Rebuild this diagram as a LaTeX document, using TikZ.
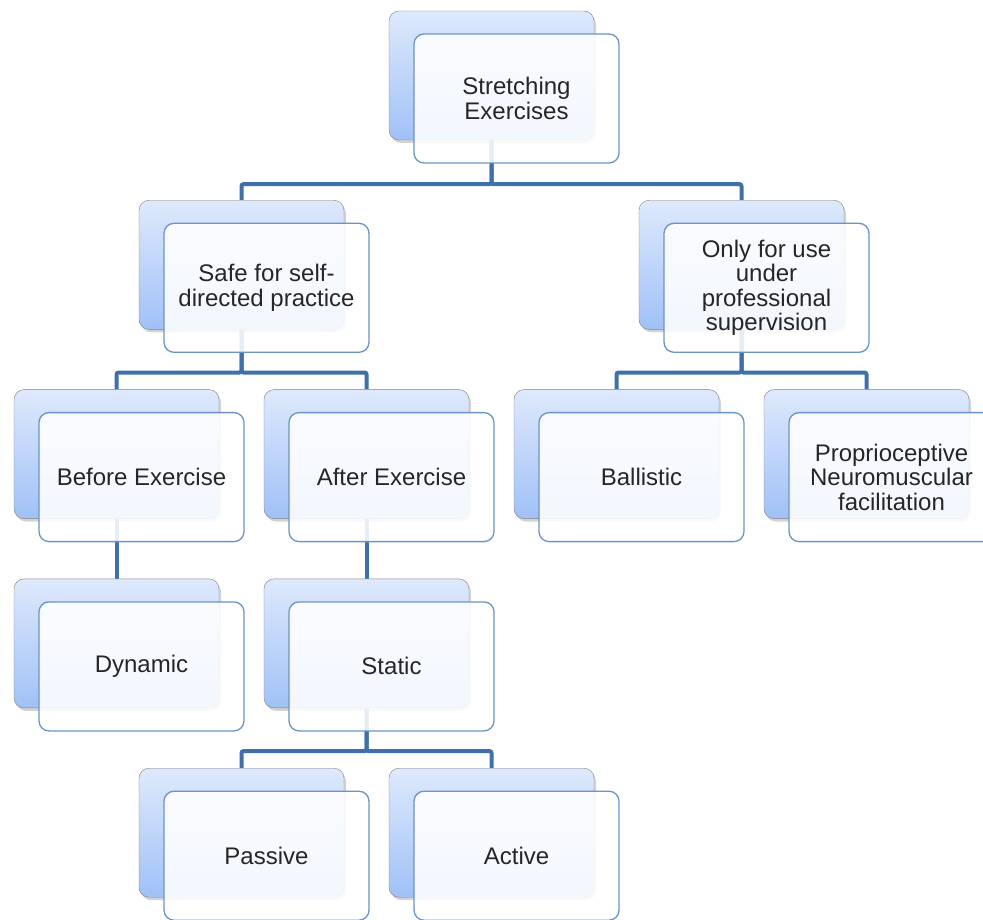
\documentclass[tikz,border=0pt]{standalone}
\usepackage{fontspec}
\setmainfont{Liberation Sans}
\usetikzlibrary{shadows,backgrounds}
\definecolor{linkblue}{RGB}{64,112,170}
\definecolor{frameblue}{RGB}{108,147,200}
\definecolor{backtop}{RGB}{222,233,252}
\definecolor{backbot}{RGB}{160,193,247}
\tikzset{backbox/.style={draw=black!50, rounded corners=10pt, minimum width=205pt, minimum height=129pt, top color=backtop, bottom color=backbot, drop shadow={shadow xshift=2pt, shadow yshift=-3pt, opacity=0.35}}}
\tikzset{frontbox/.style={draw=frameblue, line width=1.3pt, rounded corners=10pt, minimum width=205pt, minimum height=129pt, fill=white, fill opacity=0.88, text opacity=1, text=black!85, align=center, font=\fontsize{24}{24.5}\selectfont}}
\tikzset{link/.style={draw=linkblue, line width=4pt, rounded corners=2pt}}

\begin{document}
\begin{tikzpicture}[x=1pt, y=-1pt]
    
    \useasboundingbox (0,0) rectangle (983,920);
    
    % boxes: back card, then front card with the text
    \foreach \n/\c/\r/\t in {top/3/0/{Stretching\\Exercises},
                             safe/1/1/{Safe for self-\\directed practice},
                             prof/5/1/{Only for use\\under\\professional\\supervision},
                             before/0/2/{Before Exercise},
                             after/2/2/{After Exercise},
                             ballistic/4/2/{Ballistic},
                             pnf/6/2/{Proprioceptive\\Neuromuscular\\facilitation},
                             dynamic/0/3/{Dynamic},
                             static/2/3/{Static},
                             passive/1/4/{Passive},
                             active/3/4/{Active}} {
        \node [backbox] (b-\n) at ({116.5+125*\c}, {75.5+189.3*\r}) {};
        \node [frontbox] (\n) at ([shift={(25,23)}]b-\n.center) {\t};
    }
    
    \begin{scope}[on background layer]
        \draw [link] (b-top.south) -- ++(0,44) -| (b-safe.north);
        \draw [link] (b-top.south) -- ++(0,44) -| (b-prof.north);
        \draw [link] (b-safe.south) -- ++(0,43) -| (b-before.north);
        \draw [link] (b-safe.south) -- ++(0,43) -| (b-after.north);
        \draw [link] (b-prof.south) -- ++(0,43) -| (b-ballistic.north);
        \draw [link] (b-prof.south) -- ++(0,43) -| (b-pnf.north);
        \draw [link] (b-before.south) -- (b-dynamic.north);
        \draw [link] (b-after.south) -- (b-static.north);
        \draw [link] (b-static.south) -- ++(0,43) -| (b-passive.north);
        \draw [link] (b-static.south) -- ++(0,43) -| (b-active.north);
    \end{scope}
    
\end{tikzpicture}
\end{document}
